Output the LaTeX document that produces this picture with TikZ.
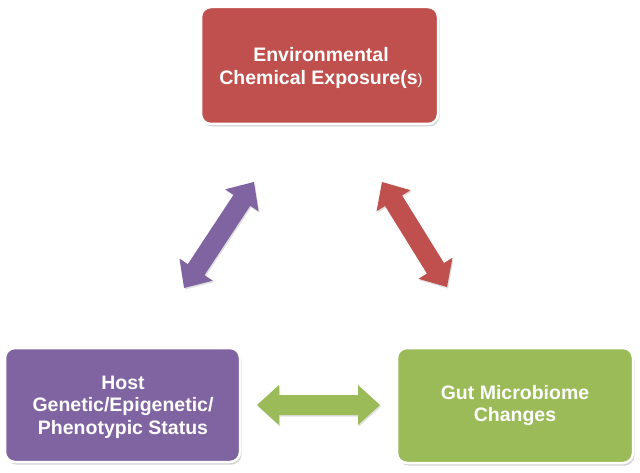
\documentclass[tikz,border=0pt]{standalone}
\usepackage{fontspec}
\setmainfont{Liberation Sans}
\usetikzlibrary{shadows}
\definecolor{cred}{HTML}{C0504D}
\definecolor{cpurple}{HTML}{8064A2}
\definecolor{cgreen}{HTML}{9BBB59}
\newcommand\DblArrow[5]{%
  \begin{scope}[shift={(#1,#2)},rotate=#3]
    \fill[#5, drop shadow={shadow xshift=1pt,shadow yshift=-1.5pt,opacity=0.25}]
      (-#4/2,0) -- (-#4/2+22,20) -- (-#4/2+22,10) -- (#4/2-22,10) -- (#4/2-22,20)
      -- (#4/2,0) -- (#4/2-22,-20) -- (#4/2-22,-10) -- (-#4/2+22,-10) -- (-#4/2+22,-20) -- cycle;
  \end{scope}}
\tikzset{
  box/.style={draw=white, line width=2.5pt, rounded corners=10pt, inner sep=0pt,
    drop shadow={shadow xshift=1.5pt,shadow yshift=-2.5pt,opacity=0.35}},
  boxtext/.style={text=white, align=center, font=\fontsize{19.5}{22.5}\selectfont\bfseries}
}
\begin{document}
\begin{tikzpicture}[x=1pt,y=1pt]
\useasboundingbox[fill=white] (0,0) rectangle (640,472);
\node[box, fill=cred, minimum width=237pt, minimum height=117pt] (env) at (319.5,406.5) {};
\node[boxtext] (envt) at (321,404) {Environmental\\Chemical Exposure(s{\fontsize{15}{22.5}\selectfont\mdseries)}};
\node[box, fill=cpurple, minimum width=235pt, minimum height=114pt] (host) at (122.5,67) {};
\node[boxtext] (hostt) at (123,65) {Host\\Genetic/Epigenetic/\\Phenotypic Status};
\node[box, fill=cgreen, minimum width=236pt, minimum height=115pt] (gut) at (515,66.5) {};
\node[boxtext] (gutt) at (gut.center) {Gut Microbiome\\Changes};
\DblArrow{219}{237}{56.6}{127}{cpurple}
\DblArrow{414.5}{237.5}{-58.2}{123.5}{cred}
\DblArrow{318.5}{67}{0}{123}{cgreen}
\end{tikzpicture}
\end{document}
